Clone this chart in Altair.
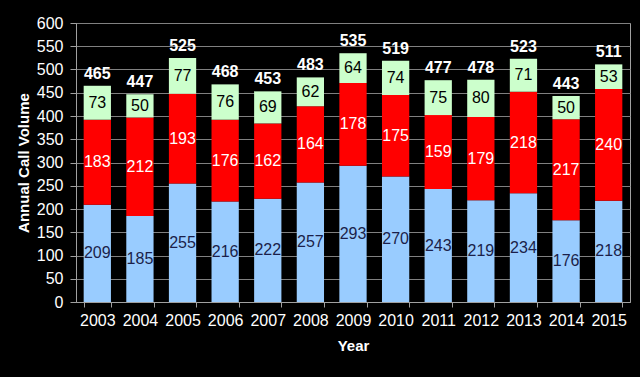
import altair as alt
import pandas as pd

years = [str(y) for y in range(2003, 2016)]
blue_vals = [209, 185, 255, 216, 222, 257, 293, 270, 243, 219, 234, 176, 218]
red_vals = [183, 212, 193, 176, 162, 164, 178, 175, 159, 179, 218, 217, 240]
green_vals = [73, 50, 77, 76, 69, 62, 64, 74, 75, 80, 71, 50, 53]
y_ticks = [0, 50, 100, 150, 200, 250, 300, 350, 400, 450, 500, 550, 600]
series = ["Blue", "Red", "Green"]
colors = ["#99CCFF", "#FF0000", "#CCFFCC"]
text_colors = ["#1B1F4A", "#FFFFFF", "#000000"]

rows = []
for i, y in enumerate(years):
    base = 0
    for s, vals, tc in zip(series, [blue_vals, red_vals, green_vals], text_colors):
        v = vals[i]
        rows.append({"Year": y, "series": s, "order": series.index(s),
                     "start": base, "end": base + v, "mid": base + v / 2,
                     "value": v, "tcolor": tc})
        base += v
df = pd.DataFrame(rows)
tot = pd.DataFrame({"Year": years,
                    "total": [b + r + g for b, r, g in zip(blue_vals, red_vals, green_vals)]})

x_axis = alt.Axis(labelAngle=0, labelColor="white", labelFontSize=16,
                  labelFont="Liberation Sans", titleColor="white",
                  titleFontSize=15, titleFont="Liberation Sans",
                  titleFontWeight="bold", titlePadding=10,
                  tickBand="extent", tickColor="#A0A0A0", tickSize=5,
                  domainColor="#A0A0A0", labelPadding=5)
x_scale = alt.Scale(paddingInner=0.36, paddingOuter=0.18)

y_axis = alt.Axis(values=y_ticks, labelColor="white",
                  labelFontSize=16, labelFont="Liberation Sans",
                  labelOverlap=False, labelBound=False,
                  titleColor="white", titleFontSize=15,
                  titleFont="Liberation Sans", titleFontWeight="bold",
                  gridColor="#808080", gridWidth=1, domainColor="#A0A0A0",
                  tickColor="#A0A0A0", tickSize=6, labelPadding=7,
                  titlePadding=5)
y_scale = alt.Scale(domain=[0, 600], nice=False)


def xenc():
    return alt.X("Year:N", sort=years, title="Year", scale=x_scale, axis=x_axis)


bars = alt.Chart(df).mark_bar().encode(
    x=xenc(),
    y=alt.Y("start:Q", scale=y_scale, title="Annual Call Volume", axis=y_axis),
    y2="end:Q",
    color=alt.Color("series:N", scale=alt.Scale(domain=series, range=colors), legend=None),
)

seg_text = alt.Chart(df).mark_text(fontSize=16, font="Liberation Sans").encode(
    x=xenc(),
    y=alt.Y("mid:Q", scale=y_scale, title="Annual Call Volume", axis=y_axis),
    text=alt.Text("value:Q"),
    color=alt.Color("tcolor:N", scale=None),
)

tot_text = alt.Chart(tot).mark_text(fontSize=16, font="Liberation Sans",
                                     fontWeight="bold", color="white",
                                     baseline="bottom", dy=-4).encode(
    x=xenc(),
    y=alt.Y("total:Q", scale=y_scale, title="Annual Call Volume", axis=y_axis),
    text=alt.Text("total:Q"),
)

chart = alt.layer(bars, seg_text, tot_text).properties(
    width=554, height=279,
    background="black",
    padding={"left": 76, "top": 23, "right": 10, "bottom": 75},
    autosize=alt.AutoSizeParams(type="none"),
).configure_view(stroke="#A0A0A0", strokeWidth=1)

chart.save("out.html", embed_options={"renderer": "svg", "actions": False})
